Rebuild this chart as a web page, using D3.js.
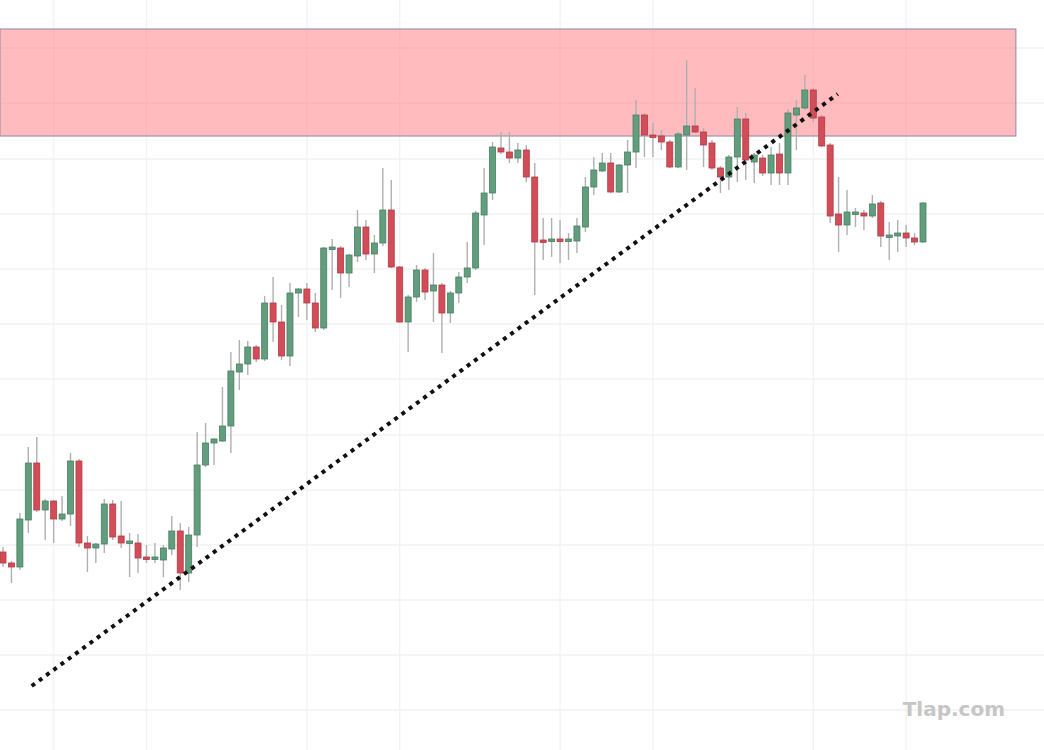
<!DOCTYPE html>
<html>
<head>
<meta charset="utf-8">
<script src="https://cdn.jsdelivr.net/npm/d3@7/dist/d3.min.js"></script>
<style>
  html, body { margin: 0; padding: 0; background: #ffffff; }
  svg { display: block; }
</style>
</head>
<body>
<svg id="chart" width="1044" height="750"></svg>
<script>
// ---- Data (price units) ----
const opens  = [148,137,133,180,237,190,199,181,186,239,157,152,156,196,164,157,157,143,142,140,151,169,127,165,235,257,259,274,328,336,353,341,397,378,344,407,411,397,372,451,452,427,444,473,446,457,490,433,378,403,430,409,415,387,407,423,432,485,507,552,548,542,550,523,460,460,461,460,459,473,513,529,537,508,535,548,585,565,564,558,533,565,574,568,557,532,523,543,581,538,542,527,546,527,585,592,610,583,555,486,475,486,487,484,497,464,464,467,462,458];
const closes = [137,133,181,237,190,199,181,186,239,157,152,156,196,163,157,159,142,142,143,152,169,127,165,235,257,261,274,329,336,353,341,397,378,344,407,411,397,372,452,453,427,445,473,446,457,490,433,378,403,430,408,415,387,407,423,432,487,507,553,548,542,550,523,458,459,461,460,461,474,513,530,537,508,535,548,585,565,564,558,533,566,574,568,555,532,523,543,581,540,545,527,545,527,587,592,610,582,554,484,475,488,488,484,496,464,465,467,462,458,497];
const highs  = [153,139,187,253,263,201,200,204,247,241,164,157,201,200,199,167,166,155,157,155,184,177,173,268,277,262,313,348,360,359,355,404,423,395,417,412,417,407,453,461,454,446,490,480,465,532,520,434,405,435,432,447,417,409,428,458,489,532,558,568,568,557,555,537,482,482,480,467,482,523,543,547,547,536,560,600,587,577,570,560,568,640,612,572,560,534,545,593,587,547,545,553,557,591,600,625,612,585,557,523,510,492,490,505,499,478,480,475,467,498];
const lows   = [133,117,130,167,188,160,157,179,174,153,128,137,147,160,152,123,127,137,137,123,145,110,118,153,233,235,258,247,310,325,338,339,358,340,334,383,380,368,370,410,402,413,438,440,427,454,432,377,348,398,400,378,347,377,397,417,430,455,500,546,537,537,518,405,440,443,437,440,447,468,505,528,507,507,507,532,543,543,550,532,532,530,567,533,530,507,510,518,520,517,524,515,515,515,550,590,578,553,477,448,465,473,470,482,453,440,448,453,455,457];

// Resistance zone (price band) and trend line anchors (candle index, price)
const zoneLow = 564, zoneHigh = 671, zoneEndIndex = 120;
const trendFrom = { i: 3.4, p: 14 };
const trendTo   = { i: 98.9, p: 606 };

// Grid ticks
const priceGrid = [652, 597, 541, 486, 431, 376, 321, 265, 210, 155, 100, 45, -10];
const timeGrid  = [6, 17, 36, 47, 66, 77, 96, 107];

const watermark = "Tlap.com";

// ---- Drawing ----
const W = 1044, H = 750;
const svg = d3.select("#chart");

const x = d3.scaleLinear().domain([0, opens.length - 1]).range([3, 923]);
const y = d3.scaleLinear().domain([0, 700]).range([700, 0]);

const candles = opens.map((o, i) => ({ i, o, c: closes[i], h: highs[i], l: lows[i] }));

const GREEN = "#629d7d", GREEN_EDGE = "#467f62";
const RED = "#d24d58", RED_EDGE = "#b23a45";
const WICK = "#b0b0b0";

// Grid
const grid = svg.append("g").attr("class", "grid");
grid.selectAll("line.h").data(priceGrid).join("line")
  .attr("class", "h")
  .attr("x1", 0).attr("x2", W)
  .attr("y1", d => y(d)).attr("y2", d => y(d))
  .attr("stroke", "#f2f2f2").attr("stroke-width", 1.4);
grid.selectAll("line.v").data(timeGrid).join("line")
  .attr("class", "v")
  .attr("x1", d => x(d)).attr("x2", d => x(d))
  .attr("y1", 0).attr("y2", H)
  .attr("stroke", "#f3f3f3").attr("stroke-width", 1.4);

// Zone
svg.append("rect")
  .attr("x", 0)
  .attr("y", y(zoneHigh))
  .attr("width", x(zoneEndIndex))
  .attr("height", y(zoneLow) - y(zoneHigh))
  .attr("fill", "rgb(255,120,125)")
  .attr("fill-opacity", 0.5)
  .attr("stroke", "#9c93b0")
  .attr("stroke-width", 1.2);

// Candles
const bodyW = 6;
const cg = svg.append("g").attr("class", "candles");
const g = cg.selectAll("g").data(candles).join("g");
g.append("line")
  .attr("x1", d => x(d.i)).attr("x2", d => x(d.i))
  .attr("y1", d => y(d.h)).attr("y2", d => y(d.l))
  .attr("stroke", WICK).attr("stroke-width", 1.4);
g.append("rect")
  .attr("x", d => x(d.i) - bodyW / 2)
  .attr("width", bodyW)
  .attr("y", d => y(Math.max(d.o, d.c)))
  .attr("height", d => Math.max(2.5, Math.abs(y(d.o) - y(d.c))))
  .attr("fill", d => d.c >= d.o ? GREEN : RED)
  .attr("stroke", d => d.c >= d.o ? GREEN_EDGE : RED_EDGE)
  .attr("stroke-width", 0.8);

// Trend line (dotted)
svg.append("line")
  .attr("x1", x(trendFrom.i)).attr("y1", y(trendFrom.p))
  .attr("x2", x(trendTo.i)).attr("y2", y(trendTo.p))
  .attr("stroke", "#111")
  .attr("stroke-width", 4)
  .attr("stroke-dasharray", "4 5");

// Watermark
svg.append("text")
  .attr("x", 1005).attr("y", 716)
  .attr("text-anchor", "end")
  .attr("font-family", "DejaVu Sans, sans-serif")
  .attr("font-weight", "bold")
  .attr("font-size", 20)
  .attr("fill", "#c6c6c6")
  .text(watermark);
</script>
</body>
</html>
